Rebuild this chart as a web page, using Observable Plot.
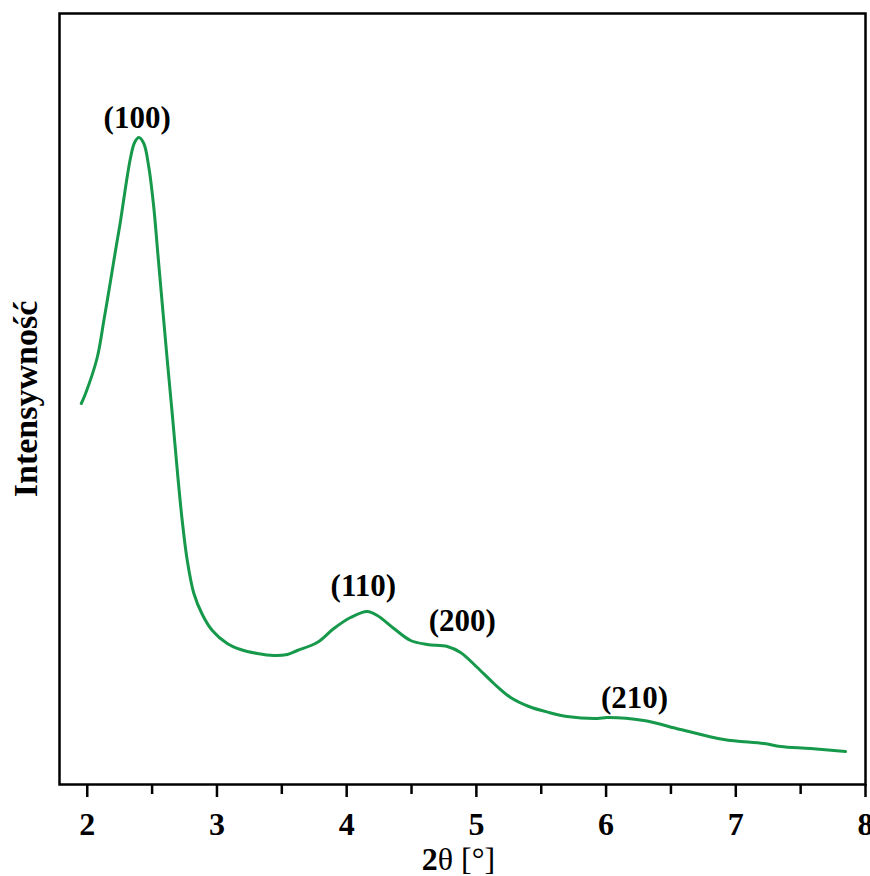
<!DOCTYPE html>
<html><head><meta charset="utf-8">
<script src="https://cdn.jsdelivr.net/npm/d3@7"></script>
<script src="https://cdn.jsdelivr.net/npm/@observablehq/plot@0.6"></script>
<style>
body{margin:0;background:#fff}
#chart svg, #chart svg text { font-family: "Liberation Serif", "Times New Roman", serif !important; }
</style>
</head><body><div id="chart"></div>
<script>
const twoTheta = [1.954,1.987,2.077,2.128,2.180,2.218,2.257,2.295,2.334,2.365,2.398,2.436,2.475,2.513,2.544,2.578,2.617,2.655,2.699,2.732,2.771,2.822,2.887,2.964,3.079,3.182,3.311,3.439,3.542,3.619,3.773,3.901,4.030,4.159,4.236,4.364,4.493,4.621,4.776,4.878,5.007,5.135,5.264,5.405,5.560,5.700,5.932,6.009,6.291,6.574,6.908,7.217,7.345,7.576,7.846];
const intensity = [381,391,427,464,504,534,564,597,627,642,647,641,617,577,531,481,424,371,307,264,224,191,170,154,141,135,131,129,130,134,142,156,167,173,169,156,144,140,138,132,117,101,87,78,72,68,66,67,64,55,45,41,38,36,33];
const peakLabels = ["(100)","(110)","(200)","(210)"];
const peakX = [2.385,4.128,4.891,6.22];
const peakY = [657,189,154,77];
const majorTicks = [2,3,4,5,6,7,8];
const minorTicks = [2.5,3.5,4.5,5.5,6.5,7.5];
const xLabel = "2θ [°]";
const yLabel = "Intensywność";

const curve = twoTheta.map((x,i)=>({x, y: intensity[i]}));
const peaks = peakLabels.map((t,i)=>({t, x: peakX[i], y: peakY[i]}));

const chart = Plot.plot({
  width: 870, height: 876,
  marginLeft: 59, marginRight: 5, marginTop: 13, marginBottom: 92,
  x: {domain: [1.786, 8], axis: null},
  y: {domain: [0, 771], axis: null},
  style: {background: "#fff"},
  marks: [
    Plot.frame({stroke: "#000", strokeWidth: 2.5}),
    Plot.axisX(minorTicks, {tickSize: 10, text: null, strokeWidth: 2.5, stroke: "#000", label: null}),
    Plot.axisX(majorTicks, {tickSize: 13, tickPadding: 15, strokeWidth: 2.5, stroke: "#000", fill: "#000",
      fontSize: 32, fontWeight: "bold", tickFormat: d => String(d), label: null}),
    Plot.line(curve, {x: "x", y: "y", stroke: "#16994a", strokeWidth: 3, curve: "catmull-rom"}),
    Plot.text(peaks, {x: "x", y: "y", text: "t", lineAnchor: "bottom", textAnchor: "middle",
      fontSize: 31, fontWeight: "bold", fill: "#000"}),
    Plot.text([yLabel], {frameAnchor: "left", dx: -23, rotate: -90, lineAnchor: "bottom", textAnchor: "middle",
      fontSize: 34, fontWeight: "bold", fill: "#000"}),
    Plot.text([xLabel], {frameAnchor: "bottom", dx: -4, dy: 85, lineAnchor: "bottom", textAnchor: "middle",
      fontSize: 32, fill: "#000", className: "xlab"})
  ]
});
document.getElementById("chart").appendChild(chart);
d3.select(chart).selectAll("g.xlab text").each(function(){
  const t = d3.select(this);
  const s = t.text();
  if (s === xLabel) {
    t.text(null);
    t.append("tspan").attr("font-weight", "bold").text(s.slice(0,1));
    t.append("tspan").text(s.slice(1));
  }
});
</script>
</body></html>
